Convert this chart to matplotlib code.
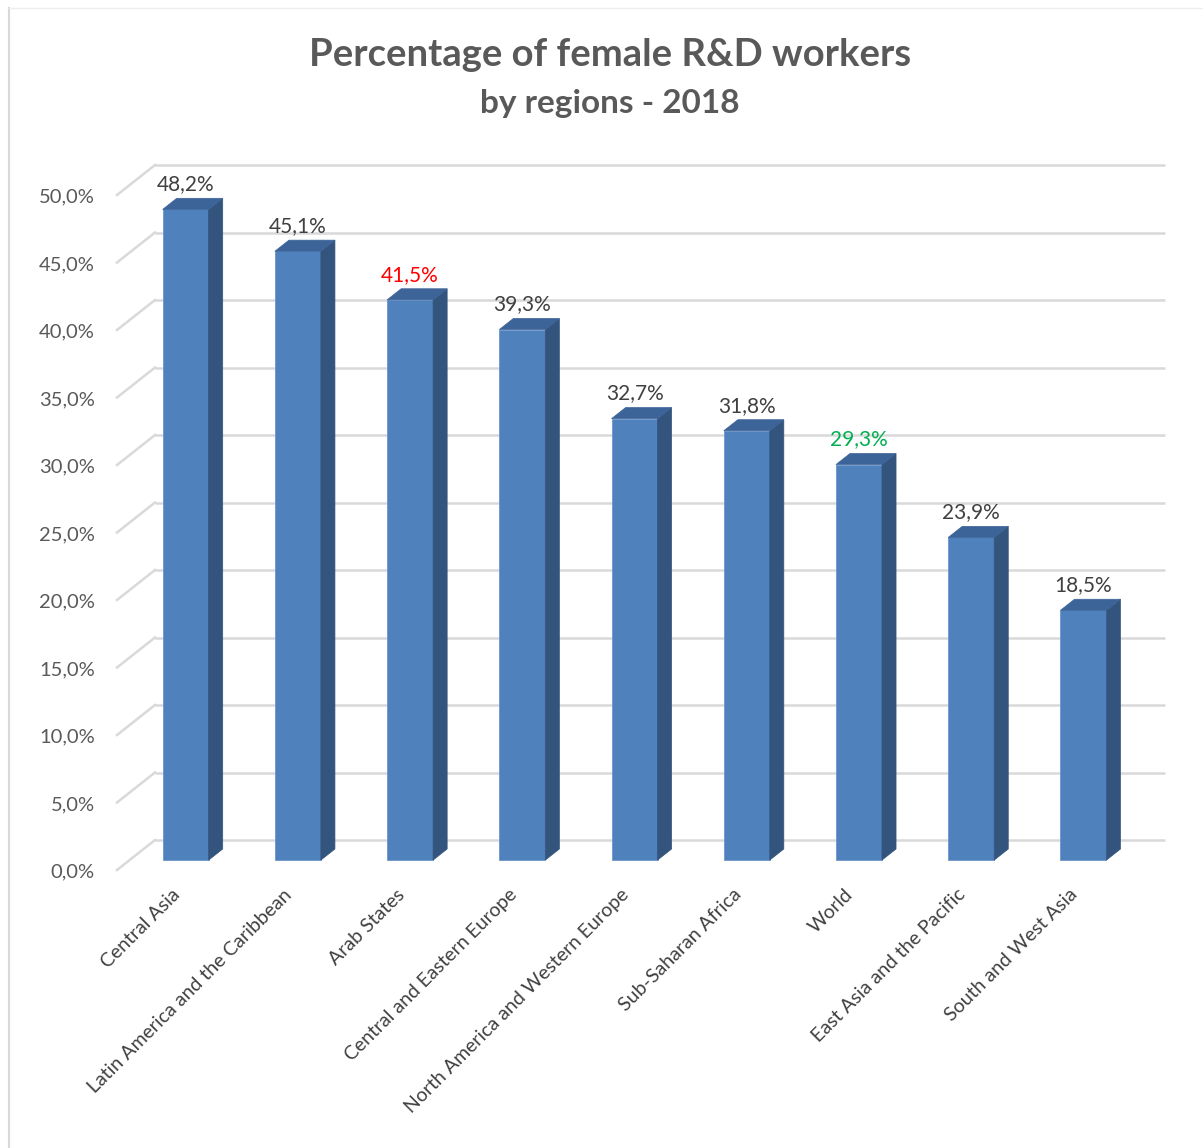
import matplotlib
matplotlib.use("Agg")
import matplotlib.pyplot as plt
from matplotlib.patches import Polygon
from matplotlib.lines import Line2D

plt.rcParams['font.family'] = ['Lato', 'DejaVu Sans']

# ---- data ----
regions = ["Central Asia", "Latin America and the Caribbean", "Arab States",
           "Central and Eastern Europe", "North America and Western Europe",
           "Sub-Saharan Africa", "World", "East Asia and the Pacific",
           "South and West Asia"]
values = [48.2, 45.1, 41.5, 39.3, 32.7, 31.8, 29.3, 23.9, 18.5]
label_colors = ["#404040", "#404040", "#FF0000", "#404040", "#404040",
                "#404040", "#00B050", "#404040", "#404040"]
yticks = [0, 5, 10, 15, 20, 25, 30, 35, 40, 45, 50]
title1 = "Percentage of female R&D workers"
title2 = "by regions - 2018"

# ---- layout ----
W_PX, H_PX = 1203, 1148
fig = plt.figure(figsize=(W_PX / 100, H_PX / 100), dpi=100)
ax_left_px, ax_right_px = 117, 1127
ax_bottom_px, ax_top_px = 870, 195
ax = fig.add_axes([ax_left_px / W_PX, (H_PX - ax_bottom_px) / H_PX,
                   (ax_right_px - ax_left_px) / W_PX,
                   (ax_bottom_px - ax_top_px) / H_PX])
n = len(regions)
ax.set_xlim(-0.5, n - 0.5)
ax.set_ylim(0, 50)
ax.axis('off')

px_per_x = (ax_right_px - ax_left_px) / n
px_per_y = (ax_bottom_px - ax_top_px) / 50.0
DX = 38 / px_per_x      # depth offset (data units)
DY = 30 / px_per_y
f0, fd = 0.33, 0.37     # bar depth start / thickness as fraction of depth
BW = 46 / px_per_x      # bar width

grid_c = "#d9d9d9"
# back wall gridlines and side diagonals
for v in yticks:
    ax.plot([-0.5 + DX, n - 0.5 + DX], [v + DY, v + DY], color=grid_c,
            lw=1.8, clip_on=False, zorder=1, solid_capstyle='butt')
    ax.plot([-0.5, -0.5 + DX], [v, v + DY], color=grid_c, lw=1.8,
            clip_on=False, zorder=1)
    ax.text(-0.5 - 22 / px_per_x, v - 2 / px_per_y,
            f"{v:.1f}".replace('.', ',') + '%',
            ha='right', va='center', fontsize=14.5, color="#595959")

front_c, side_c, top_c = "#4F81BD", "#33547D", "#3D6498"
xs = [i + f0 * DX for i in range(n)]
b0 = f0 * DY
ax.bar(xs, values, width=BW, bottom=b0, color=front_c,
       edgecolor="#6b97cc", linewidth=0.6, zorder=3, clip_on=False)
ddx, ddy = fd * DX, fd * DY
for x, v, lc in zip(xs, values, label_colors):
    xl, xr = x - BW / 2, x + BW / 2
    top = b0 + v
    ax.add_patch(Polygon([(xr, b0), (xr + ddx, b0 + ddy), (xr + ddx, top + ddy),
                          (xr, top)], closed=True, facecolor=side_c,
                         edgecolor=side_c, lw=0.5, zorder=3, clip_on=False))
    ax.add_patch(Polygon([(xl, top), (xl + ddx, top + ddy), (xr + ddx, top + ddy),
                          (xr, top)], closed=True, facecolor=top_c,
                         edgecolor=top_c, lw=0.5, zorder=3, clip_on=False))
    ax.text(x, top + ddy + 0.3, f"{v:.1f}".replace('.', ',') + '%',
            ha='center', va='bottom', fontsize=15, color=lc, zorder=4)

for i, r in enumerate(regions):
    ax.text(i - 2 / px_per_x, -16 / px_per_y, r, rotation=45,
            rotation_mode='anchor', ha='right', va='top', fontsize=14,
            color="#404040")

fig.text(610 / W_PX, 1 - 55 / H_PX, title1, ha='center', va='center',
         fontsize=27.5, fontweight='bold', color="#595959")
fig.text(610 / W_PX, 1 - 103 / H_PX, title2, ha='center', va='center',
         fontsize=24, fontweight='bold', color="#595959")

# chart border (left and top)
fig.add_artist(Line2D([9 / W_PX, 9 / W_PX], [0, 1 - 8 / H_PX],
                      transform=fig.transFigure, color=grid_c, lw=1.5))
fig.add_artist(Line2D([9 / W_PX, 1], [1 - 8 / H_PX, 1 - 8 / H_PX],
                      transform=fig.transFigure, color="#eeeeee", lw=1.0))

fig.savefig("out.png", dpi=100, facecolor="white")
